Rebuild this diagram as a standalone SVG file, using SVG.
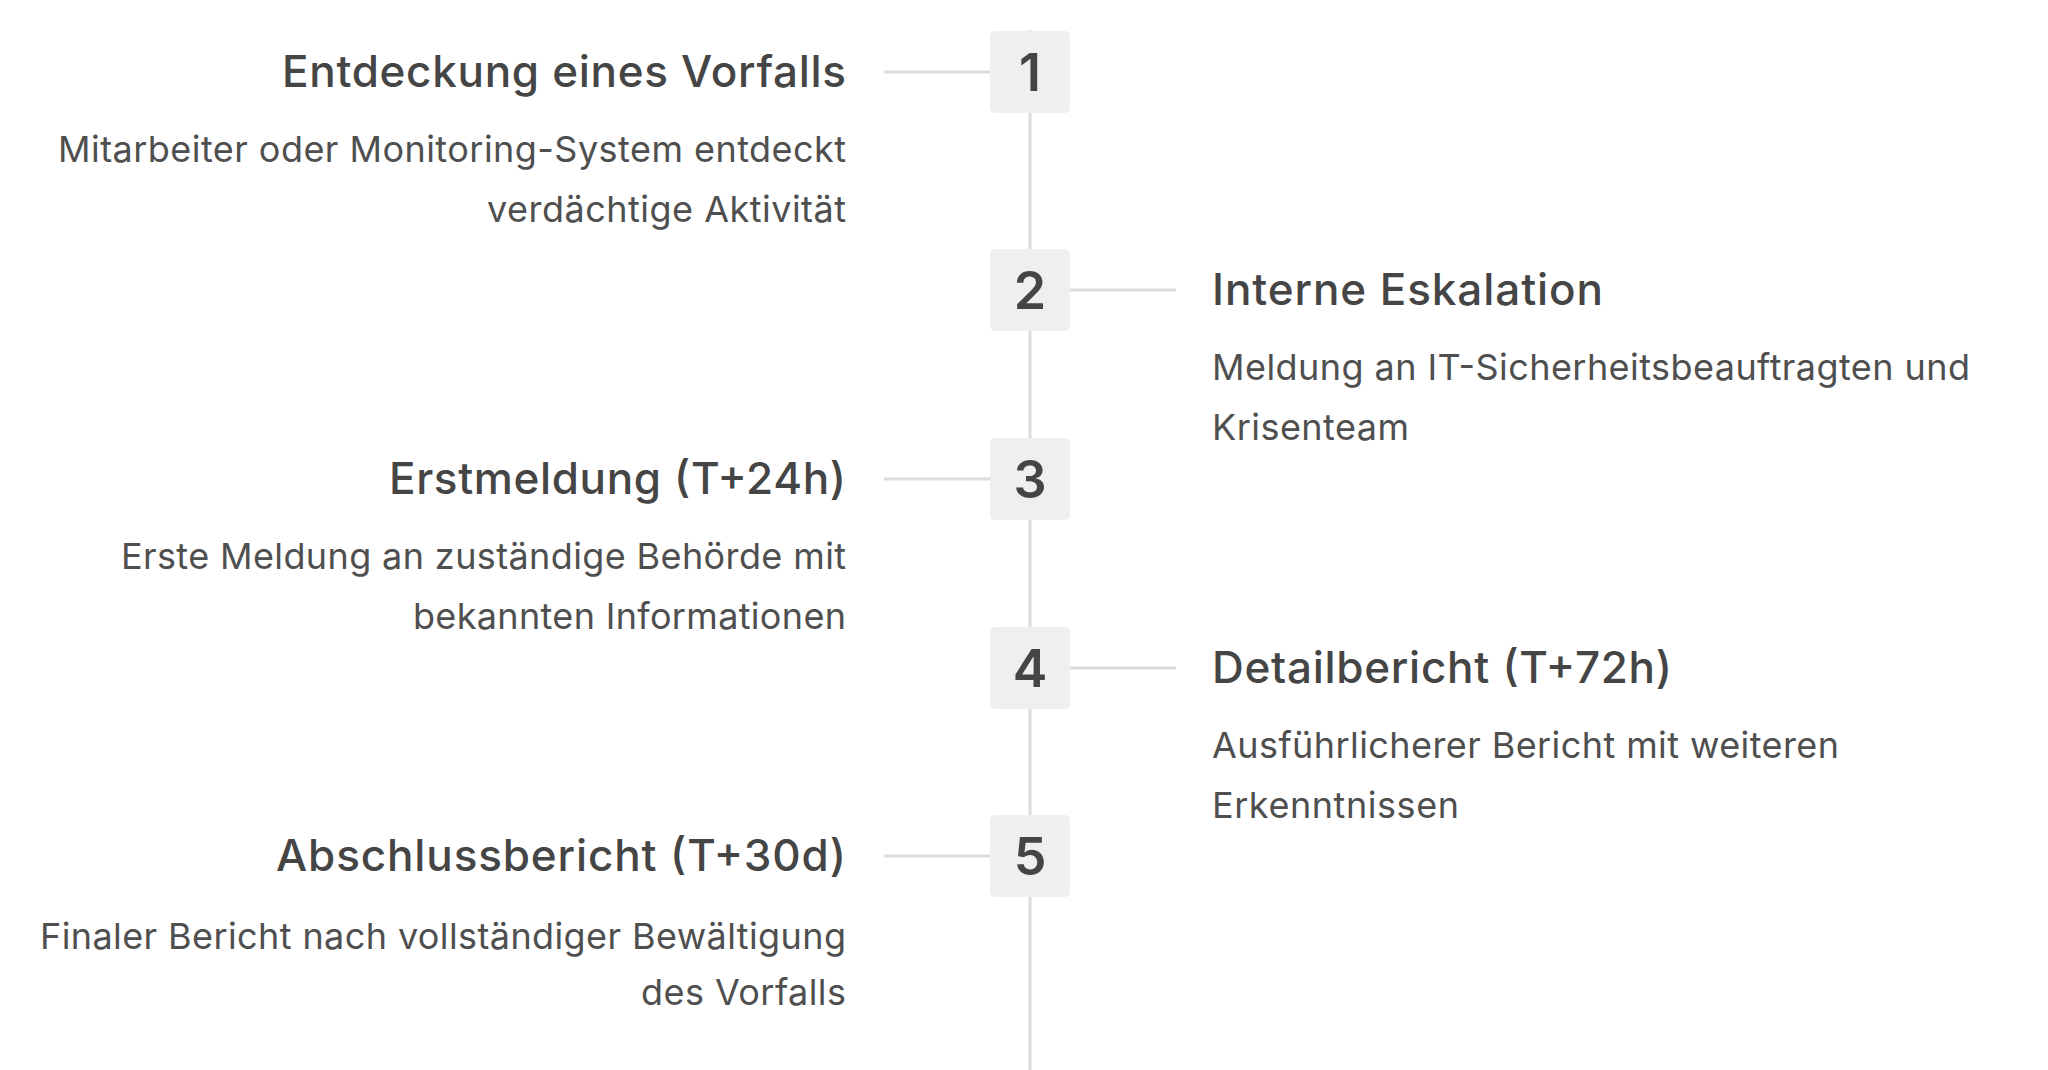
<svg xmlns="http://www.w3.org/2000/svg" width="2048" height="1070" viewBox="0 0 2048 1070">
<style>
.title{font-family:Inter,"Noto Sans",sans-serif;font-weight:550;font-size:44px;fill:#454545}
.body{font-family:Inter,"Noto Sans",sans-serif;font-weight:400;font-size:36px;fill:#4f4f4f}
.num{font-family:Inter,"Noto Sans",sans-serif;font-weight:600;font-size:52px;fill:#454545;text-anchor:middle}
.l{text-anchor:end}
.box{fill:#efefef}
.conn{stroke:#dcdcdc;stroke-width:3;fill:none}
</style>
<rect width="2048" height="1070" fill="#ffffff"/>
<g id="connectors">
<line class="conn" x1="1030" y1="30" x2="1030" y2="1070"/>
<line class="conn" x1="884" y1="72" x2="990" y2="72"/>
<line class="conn" x1="1070" y1="290" x2="1176" y2="290"/>
<line class="conn" x1="884" y1="479" x2="990" y2="479"/>
<line class="conn" x1="1070" y1="668" x2="1176" y2="668"/>
<line class="conn" x1="884" y1="856" x2="990" y2="856"/>
</g>
<g id="step1">
<rect class="box" x="990" y="31" width="80" height="82" rx="5"/>
<text class="num" x="1030" y="91">1</text>
<text class="title l" x="846" y="87" textLength="564">Entdeckung eines Vorfalls</text>
<text class="body l" x="846" y="162" textLength="788">Mitarbeiter oder Monitoring-System entdeckt</text>
<text class="body l" x="846" y="222" textLength="359">verdächtige Aktivität</text>
</g>
<g id="step2">
<rect class="box" x="990" y="249" width="80" height="82" rx="5"/>
<text class="num" x="1030" y="309">2</text>
<text class="title" x="1212" y="305" textLength="391">Interne Eskalation</text>
<text class="body" x="1212" y="380" textLength="758">Meldung an IT-Sicherheitsbeauftragten und</text>
<text class="body" x="1212" y="440" textLength="197">Krisenteam</text>
</g>
<g id="step3">
<rect class="box" x="990" y="438" width="80" height="82" rx="5"/>
<text class="num" x="1030" y="498">3</text>
<text class="title l" x="846" y="494" textLength="457">Erstmeldung (T+24h)</text>
<text class="body l" x="846" y="569" textLength="725">Erste Meldung an zuständige Behörde mit</text>
<text class="body l" x="846" y="629" textLength="433">bekannten Informationen</text>
</g>
<g id="step4">
<rect class="box" x="990" y="627" width="80" height="82" rx="5"/>
<text class="num" x="1030" y="687">4</text>
<text class="title" x="1212" y="683" textLength="460">Detailbericht (T+72h)</text>
<text class="body" x="1212" y="758" textLength="627">Ausführlicherer Bericht mit weiteren</text>
<text class="body" x="1212" y="818" textLength="247">Erkenntnissen</text>
</g>
<g id="step5">
<rect class="box" x="990" y="815" width="80" height="82" rx="5"/>
<text class="num" x="1030" y="875">5</text>
<text class="title l" x="846" y="871" textLength="570">Abschlussbericht (T+30d)</text>
<text class="body l" x="846" y="949" textLength="806">Finaler Bericht nach vollständiger Bewältigung</text>
<text class="body l" x="846" y="1005" textLength="205">des Vorfalls</text>
</g>
</svg>
